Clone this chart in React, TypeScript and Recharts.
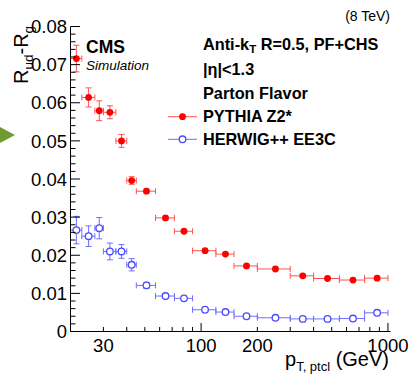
import React from 'react';
import { ScatterChart, Scatter, XAxis, YAxis, ErrorBar } from 'recharts';

// ---- data ----
const binLow = [20, 23, 27, 30, 35, 40, 45, 57, 72, 90, 120, 150, 200, 300, 400, 550, 750];
const binHigh = [23, 27, 30, 35, 40, 45, 57, 72, 90, 120, 150, 200, 300, 400, 550, 750, 1000];
const ptCenter = [21.5, 25, 28.5, 32.5, 37.5, 42.5, 51, 64.5, 81, 105, 135, 175, 250, 350, 475, 650, 875];
const pythiaVals = [0.0716, 0.0614, 0.0579, 0.0575, 0.0500, 0.0396, 0.0368, 0.0298, 0.0263, 0.0212, 0.0203, 0.0172, 0.0164, 0.0146, 0.0139, 0.0135, 0.0140];
const pythiaErr = [0.0035, 0.0025, 0.0026, 0.0017, 0.0017, 0.0010, 0.0005, 0.0004, 0.0004, 0.0003, 0.0003, 0.0003, 0.0003, 0.0003, 0.0003, 0.0003, 0.0003];
const herwigVals = [0.0266, 0.0250, 0.0271, 0.0210, 0.0210, 0.0175, 0.0121, 0.0093, 0.0087, 0.0057, 0.0051, 0.0040, 0.0036, 0.0033, 0.0033, 0.0034, 0.0049];
const herwigErr = [0.0036, 0.0027, 0.0028, 0.0022, 0.0018, 0.0016, 0.0008, 0.0005, 0.0005, 0.0004, 0.0004, 0.0003, 0.0003, 0.0003, 0.0003, 0.0003, 0.0004];

const xTicks = [20, 30, 40, 50, 60, 70, 80, 90, 100, 200, 300, 400, 500, 600, 700, 800, 900, 1000];
const xMajorTicks = [100, 1000];
const xLabelTicks = [30, 100, 200, 1000];
const yLabelTicks = [0, 0.01, 0.02, 0.03, 0.04, 0.05, 0.06, 0.07, 0.08];
const yTicks: number[] = [];
for (let i = 0; i <= 40; i++) yTicks.push(+(i * 0.002).toFixed(3));

const pythiaData = ptCenter.map((x, i) => ({ x, y: pythiaVals[i], ex: [x - binLow[i], binHigh[i] - x], ey: pythiaErr[i] }));
const herwigData = ptCenter.map((x, i) => ({ x, y: herwigVals[i], ex: [x - binLow[i], binHigh[i] - x], ey: herwigErr[i] }));

const FONT = 'Liberation Sans, Arial, Helvetica, sans-serif';
const RED = '#ff0000';
const RED_BAR = '#ff5252';
const BLUE = '#4a4aff';
const BLUE_BAR = '#6e6eff';

const W = 413;
const H = 379;

const isYLabel = (v: number) => yLabelTicks.some((t) => Math.abs(t - v) < 1e-9);

const XTick = (orientation: 'bottom' | 'top') => (props: any) => {
  const { x, y, payload } = props;
  const v = payload.value;
  const len = xMajorTicks.includes(v) ? 8.5 : 4.5;
  const dir = orientation === 'bottom' ? -1 : 1;
  return (
    <g>
      <line x1={x} x2={x} y1={y} y2={y + dir * len} stroke="#000" strokeWidth={1} />
      {orientation === 'bottom' && xLabelTicks.includes(v) && (
        <text x={x} y={y + 20.5} textAnchor="middle" fontFamily={FONT} fontSize={18.5} fill="#000">
          {v}
        </text>
      )}
    </g>
  );
};

const YTick = (orientation: 'left' | 'right') => (props: any) => {
  const { x, y, payload } = props;
  const v = payload.value;
  const major = isYLabel(v);
  const len = major ? 9.5 : 5;
  const dir = orientation === 'left' ? 1 : -1;
  return (
    <g>
      <line x1={x} x2={x + dir * len} y1={y} y2={y} stroke="#000" strokeWidth={1} />
      {orientation === 'left' && major && (
        <text x={x - 3.5} y={y} dy="0.36em" textAnchor="end" fontFamily={FONT} fontSize={18.5} fill="#000">
          {v === 0 ? '0' : v.toFixed(2)}
        </text>
      )}
    </g>
  );
};

const RedDot = (props: any) => <circle cx={props.cx} cy={props.cy} r={3.4} fill={RED} />;
const BlueDot = (props: any) => (
  <circle cx={props.cx} cy={props.cy} r={3.3} fill="#fff" stroke={BLUE} strokeWidth={1.3} />
);

export default function App() {
  return (
    <div style={{ position: 'absolute', left: 0, top: 0, width: W, height: H, background: '#fff' }}>
      <ScatterChart width={W} height={H} margin={{ top: 26.5, right: 22.5, bottom: 0, left: 0 }}>
        <XAxis
          xAxisId="b"
          dataKey="x"
          type="number"
          scale="log"
          domain={[20, 1032]}
          allowDataOverflow
          ticks={xTicks}
          interval={0}
          height={47.5}
          tickSize={0}
          tickLine={false}
          tickMargin={0}
          axisLine={{ stroke: '#000' }}
          tick={XTick('bottom')}
        />
        <XAxis
          xAxisId="t"
          orientation="top"
          dataKey="x"
          type="number"
          scale="log"
          domain={[20, 1032]}
          allowDataOverflow
          ticks={xTicks}
          interval={0}
          height={0}
          tickSize={0}
          tickLine={false}
          tickMargin={0}
          axisLine={{ stroke: '#000' }}
          tick={XTick('top')}
        />
        <YAxis
          yAxisId="l"
          dataKey="y"
          type="number"
          domain={[0, 0.08]}
          allowDataOverflow
          ticks={yTicks}
          interval={0}
          width={70.5}
          tickSize={0}
          tickLine={false}
          tickMargin={0}
          axisLine={{ stroke: '#000' }}
          tick={YTick('left')}
        />
        <YAxis
          yAxisId="r"
          orientation="right"
          dataKey="y"
          type="number"
          domain={[0, 0.08]}
          allowDataOverflow
          ticks={yTicks}
          interval={0}
          width={0}
          tickSize={0}
          tickLine={false}
          tickMargin={0}
          axisLine={{ stroke: '#000' }}
          tick={YTick('right')}
        />
        <Scatter data={herwigData} xAxisId="b" yAxisId="l" isAnimationActive={false} shape={BlueDot}>
          <ErrorBar dataKey="ex" direction="x" stroke={BLUE_BAR} strokeWidth={1} width={3} />
          <ErrorBar dataKey="ey" direction="y" stroke={BLUE_BAR} strokeWidth={1} width={3} />
        </Scatter>
        <Scatter data={pythiaData} xAxisId="b" yAxisId="l" isAnimationActive={false} shape={RedDot}>
          <ErrorBar dataKey="ex" direction="x" stroke={RED_BAR} strokeWidth={1} width={3} />
          <ErrorBar dataKey="ey" direction="y" stroke={RED_BAR} strokeWidth={1} width={3} />
        </Scatter>
      </ScatterChart>
      <svg width={W} height={H} style={{ position: 'absolute', left: 0, top: 0, pointerEvents: 'none' }}>
        <g fontFamily={FONT} fill="#000">
          <polygon points="0,127 15,135 0,143" fill="#6f9b33" />
          <text x={390} y={20.5} fontSize={14} textAnchor="end">(8 TeV)</text>
          <text x={86} y={52.7} fontSize={17.5} fontWeight="bold">CMS</text>
          <text x={86} y={70} fontSize={13.5} fontStyle="italic">Simulation</text>
          <text x={203} y={50} fontSize={16.3} fontWeight="bold">
            Anti-k<tspan fontSize={11.5} dy={3}>T</tspan>
            <tspan dy={-3}> R=0.5, PF+CHS</tspan>
          </text>
          <text x={203} y={74.5} fontSize={16.3} fontWeight="bold">|η|&lt;1.3</text>
          <text x={203} y={99.3} fontSize={16.3} fontWeight="bold">Parton Flavor</text>
          <text x={203} y={121.7} fontSize={16.3} fontWeight="bold">PYTHIA Z2*</text>
          <text x={203} y={144.5} fontSize={16.3} fontWeight="bold">HERWIG++ EE3C</text>
          <line x1={168} x2={197} y1={116.7} y2={116.7} stroke={RED_BAR} strokeWidth={1} />
          <circle cx={182.5} cy={116.7} r={3.4} fill={RED} />
          <line x1={168} x2={197} y1={139.3} y2={139.3} stroke={BLUE_BAR} strokeWidth={1} />
          <circle cx={182.5} cy={139.3} r={3.3} fill="#fff" stroke={BLUE} strokeWidth={1.3} />
          <text x={389} y={366} fontSize={20} textAnchor="end">
            p<tspan fontSize={13} dy={5}>T, ptcl</tspan>
            <tspan dy={-5}> (GeV)</tspan>
          </text>
          <text transform="translate(27.5,84) rotate(-90)" fontSize={20}>
            R<tspan fontSize={13.5} dy={5}>ud</tspan>
            <tspan dy={-5}>-R</tspan>
            <tspan fontSize={13.5} dy={5}>g</tspan>
          </text>
        </g>
      </svg>
    </div>
  );
}
